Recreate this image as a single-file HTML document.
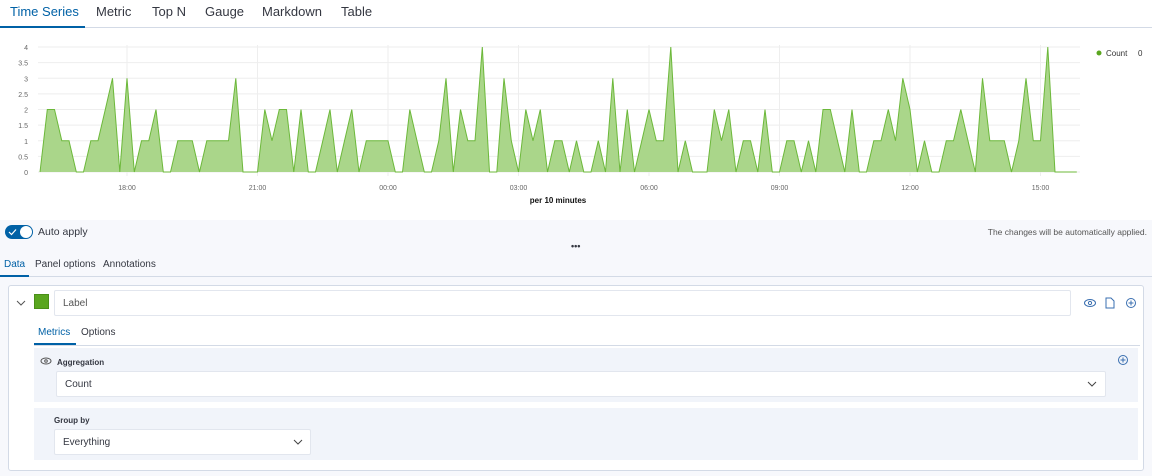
<!DOCTYPE html>
<html><head><meta charset="utf-8"><style>
*{box-sizing:border-box;margin:0;padding:0}
body{width:1152px;height:476px;overflow:hidden;background:#fff;font-family:"Liberation Sans",sans-serif;color:#343741;position:relative}
.abs{position:absolute;white-space:nowrap}
.tabs{position:absolute;left:0;top:0;width:1152px;height:28px;border-bottom:1px solid #d3dae6;font-size:13px}
.tabs div{position:absolute;top:4px}
.lower{position:absolute;top:220px;left:0;width:1152px;height:256px;background:#f7f8fc}
.sel{background:#fff;border:1px solid #e2e6ee;border-radius:2px;font-size:10px;padding-left:8px;display:flex;align-items:center}
</style></head><body>
<div class="tabs">
<div style="left:10px;color:#0061a6">Time Series</div><div style="left:96px">Metric</div><div style="left:152px">Top N</div><div style="left:205px">Gauge</div><div style="left:262px">Markdown</div><div style="left:341px">Table</div>
<div style="left:0;top:26px;width:85px;height:2px;background:#0061a6"></div>
</div>
<svg class="abs" style="left:0;top:0" width="1152" height="220" id="ch"></svg>
<div class="lower">
<div class="abs" style="left:5px;top:5px;width:28px;height:14px;border-radius:7px;background:#0061a6"></div>
<div class="abs" style="left:20px;top:6px;width:12px;height:12px;border-radius:6px;background:#fff"></div>
<svg class="abs" style="left:8px;top:8px" width="10" height="8" fill="none" stroke="#fff" stroke-width="1.2"><path d="M1 4l2.5 2.5L8 1.5"/></svg>
<div class="abs" style="left:38px;top:6px;font-size:10.5px">Auto apply</div>
<div class="abs" style="right:5px;top:7px;font-size:8.5px;color:#555">The changes will be automatically applied.</div>
<div class="abs" style="left:571px;top:21px;font-size:9px;font-weight:bold">•••</div>
<div class="abs" style="left:0;top:56px;width:1152px;border-top:1px solid #d3dae6"></div>
<div class="abs" style="left:4px;top:39px;font-size:10px;color:#0061a6">Data</div>
<div class="abs" style="left:0;top:55px;width:29px;height:2px;background:#0061a6"></div>
<div class="abs" style="left:35px;top:39px;font-size:10px">Panel options</div>
<div class="abs" style="left:103px;top:39px;font-size:10px">Annotations</div>
<div class="abs" style="left:8px;top:65px;width:1136px;height:186px;background:#fff;border:1px solid #d3dae6;border-radius:3px"></div>
<svg class="abs" style="left:15px;top:79px" width="12" height="8" fill="none" stroke="#555" stroke-width="1"><path d="M2 2l4 4 4-4"/></svg>
<div class="abs" style="left:34px;top:74px;width:15px;height:15px;background:#5aa61f;border:1px solid #4a8f18"></div>
<div class="abs sel" style="left:54px;top:70px;width:1017px;height:26px;font-size:10px;color:#555">Label</div>
<svg class="abs" style="left:1083px;top:76px" width="60" height="16" fill="none" stroke="#3a6fb0" stroke-width="1">
<ellipse cx="7" cy="7" rx="5.5" ry="3.5"/><circle cx="7" cy="7" r="1.6"/>
<path d="M23 2h5l3 3v7h-8z"/>
<circle cx="48" cy="7" r="4.5"/><path d="M48 4.5v5M45.5 7h5"/></svg>
<div class="abs" style="left:38px;top:107px;font-size:10px;color:#0061a6">Metrics</div>
<div class="abs" style="left:81px;top:107px;font-size:10px">Options</div>
<div class="abs" style="left:34px;top:125px;width:1106px;border-top:1px solid #d3dae6"></div>
<div class="abs" style="left:34px;top:123px;width:42px;height:2px;background:#0061a6"></div>
<div class="abs" style="left:34px;top:128px;width:1104px;height:54px;background:#f1f4fa"></div>
<svg class="abs" style="left:40px;top:136px" width="12" height="10" fill="none" stroke="#555"><ellipse cx="6" cy="5" rx="5" ry="3"/><circle cx="6" cy="5" r="1.3"/></svg>
<div class="abs" style="left:57px;top:138px;font-size:8px;font-weight:bold">Aggregation</div>
<svg class="abs" style="left:1117px;top:134px" width="12" height="12" fill="none" stroke="#3a6fb0"><circle cx="6" cy="6" r="4.5"/><path d="M6 3.5v5M3.5 6h5"/></svg>
<div class="abs sel" style="left:56px;top:151px;width:1050px;height:26px">Count</div>
<svg class="abs" style="left:1086px;top:160px" width="12" height="8" fill="none" stroke="#444" stroke-width="1"><path d="M2 2l4 4 4-4"/></svg>
<div class="abs" style="left:34px;top:188px;width:1104px;height:52px;background:#f1f4fa"></div>
<div class="abs" style="left:54px;top:196px;font-size:8px;font-weight:bold">Group by</div>
<div class="abs sel" style="left:54px;top:209px;width:257px;height:26px">Everything</div>
<svg class="abs" style="left:292px;top:218px" width="12" height="8" fill="none" stroke="#444" stroke-width="1"><path d="M2 2l4 4 4-4"/></svg>
</div>
<script>
var v=[0,2,2,1,1,0,0,1,1,2,3,0,3,0,1,1,2,0,0,1,1,1,0,1,1,1,1,3,0,0,0,2,1,2,2,0,2,0,0,1,2,0,1,2,0,1,1,1,1,0,0,2,1,0,0,1,3,0,2,1,1,4,0,0,3,1,0,2,1,2,0,1,1,0,1,0,0,1,0,3,0,2,0,1,2,1,1,4,0,1,0,0,0,2,1,2,0,1,1,0,2,0,0,1,1,0,1,0,2,2,1,0,2,0,0,1,1,2,1,3,2,0,1,0,0,1,1,2,1,0,3,1,1,1,0,1,3,1,1,4,0,0,0,0];
var s='',X=i=>40+7.25*i,Y=a=>172-31.25*a;
for(var k=0;k<=8;k++){var y=Y(k/2);s+='<line x1="38" x2="1080" y1="'+y+'" y2="'+y+'" stroke="#eee"/><text x="28" y="'+(y+3)+'" font-size="7" fill="#666" text-anchor="end">'+(k/2)+'</text>';}
var t=['18:00','21:00','00:00','03:00','06:00','09:00','12:00','15:00'];
for(var j=0;j<8;j++){var x=X(12+18*j);s+='<line x1="'+x+'" x2="'+x+'" y1="45" y2="176" stroke="#eee"/><text x="'+x+'" y="190" font-size="7" fill="#666" text-anchor="middle">'+t[j]+'</text>';}
var p='';v.forEach((a,i)=>p+=(i?'L':'M')+X(i).toFixed(1)+' '+Y(a));
s+='<path d="'+p+'L'+X(v.length-1)+' 172L40 172Z" fill="#aad68a"/><path d="'+p+'" fill="none" stroke="#6cb83a" stroke-width="1"/>';
s+='<text x="558" y="203" font-size="8" font-weight="bold" text-anchor="middle" fill="#111">per 10 minutes</text>';
s+='<circle cx="1099" cy="53" r="2.5" fill="#5aa61f"/><text x="1106" y="56" font-size="8" fill="#333">Count</text><text x="1138" y="56" font-size="8" fill="#333">0</text>';
document.getElementById('ch').innerHTML=s;
</script>
</body></html>
